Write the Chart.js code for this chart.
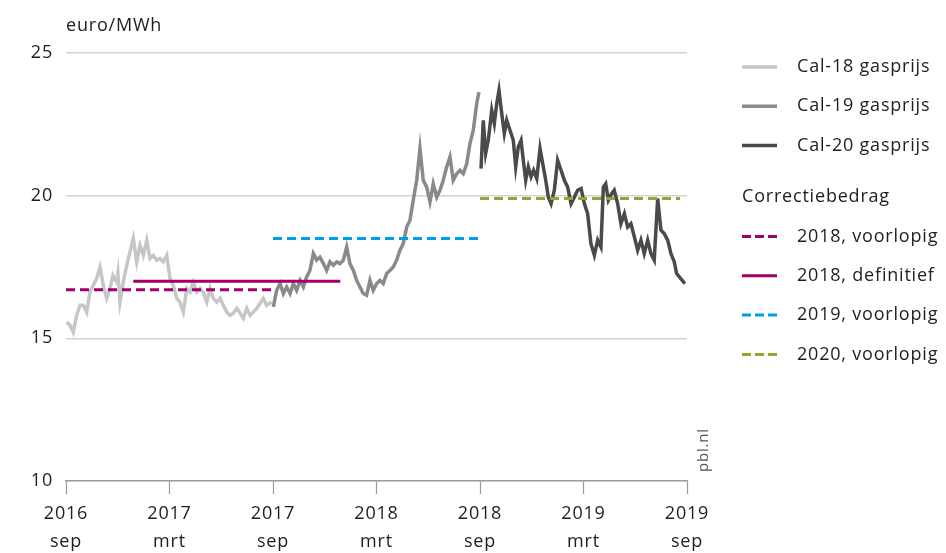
<!DOCTYPE html>
<html>
<head>
<meta charset="utf-8">
<script src="https://cdn.jsdelivr.net/npm/chart.js@4"></script>
<style>
    html, body { margin: 0; padding: 0; background: #ffffff; }
    #wrap { width: 946px; height: 553px; position: relative; }
</style>
</head>
<body>
<div id="wrap"><canvas id="gasChart"></canvas></div>
<script>
// Tick labels (months since sep 2016)
const tickYears = ['2016', '2017', '2017', '2018', '2018', '2019', '2019'];
const tickMonths = ['sep', 'mrt', 'sep', 'mrt', 'sep', 'mrt', 'sep'];

// Cal-18 gasprijs
const cal18Months = [0.04, 0.23, 0.42, 0.62, 0.81, 1.0, 1.2, 1.39, 1.58, 1.78, 1.97, 2.16, 2.36, 2.55, 2.72, 2.94, 3.01, 3.13, 3.32, 3.52, 3.71, 3.9, 4.1, 4.29, 4.48, 4.68, 4.87, 5.06, 5.26, 5.45, 5.64, 5.84, 6.03, 6.22, 6.42, 6.61, 6.8, 7.0, 7.19, 7.38, 7.58, 7.77, 7.96, 8.16, 8.35, 8.54, 8.74, 8.93, 9.12, 9.32, 9.51, 9.7, 9.9, 10.09, 10.28, 10.48, 10.67, 10.86, 11.06, 11.25, 11.44, 11.63, 11.92];
const cal18Prices = [15.57, 15.46, 15.22, 15.81, 16.16, 16.16, 15.92, 16.62, 16.86, 17.10, 17.50, 16.86, 16.40, 16.75, 17.21, 16.97, 17.28, 16.27, 16.97, 17.56, 18.03, 18.50, 17.68, 18.26, 17.91, 18.44, 17.80, 17.91, 17.74, 17.80, 17.68, 17.91, 17.09, 16.86, 16.40, 16.27, 15.92, 16.75, 16.62, 16.97, 16.62, 16.75, 16.62, 16.27, 16.75, 16.40, 16.27, 16.40, 16.16, 15.92, 15.81, 15.88, 16.05, 15.88, 15.70, 16.05, 15.81, 15.92, 16.05, 16.23, 16.40, 16.16, 16.27];

// Cal-19 gasprijs
const cal19Months = [12.02, 12.21, 12.41, 12.6, 12.79, 12.99, 13.18, 13.37, 13.57, 13.76, 13.95, 14.14, 14.34, 14.53, 14.72, 14.92, 15.11, 15.3, 15.5, 15.69, 15.88, 16.08, 16.27, 16.46, 16.66, 16.85, 17.04, 17.23, 17.43, 17.62, 17.81, 18.01, 18.2, 18.39, 18.59, 18.78, 18.97, 19.17, 19.36, 19.55, 19.75, 19.94, 20.13, 20.33, 20.52, 20.71, 20.91, 21.1, 21.29, 21.49, 21.68, 21.87, 22.07, 22.26, 22.45, 22.65, 22.84, 23.03, 23.23, 23.42, 23.61, 23.81, 23.94];
const cal19Prices = [16.10, 16.68, 16.92, 16.57, 16.80, 16.57, 16.92, 16.68, 17.03, 16.80, 17.15, 17.38, 17.97, 17.74, 17.85, 17.62, 17.38, 17.68, 17.56, 17.68, 17.62, 17.74, 18.20, 17.62, 17.38, 17.03, 16.80, 16.57, 16.51, 17.03, 16.68, 16.92, 17.03, 16.92, 17.27, 17.38, 17.50, 17.74, 18.09, 18.32, 18.90, 19.14, 19.84, 20.54, 21.65, 20.54, 20.30, 19.78, 20.42, 19.95, 20.19, 20.54, 21.01, 21.36, 20.54, 20.77, 20.89, 20.77, 21.12, 21.83, 22.29, 23.23, 23.63];

// Cal-20 gasprijs
const cal20Months = [24.06, 24.19, 24.33, 24.48, 24.68, 24.83, 24.97, 25.1, 25.26, 25.41, 25.55, 25.74, 25.93, 26.07, 26.22, 26.38, 26.51, 26.65, 26.8, 26.96, 27.11, 27.29, 27.48, 27.67, 27.81, 27.96, 28.12, 28.31, 28.5, 28.7, 28.89, 29.08, 29.28, 29.47, 29.66, 29.86, 30.05, 30.24, 30.43, 30.63, 30.82, 31.01, 31.15, 31.29, 31.44, 31.63, 31.78, 31.98, 32.17, 32.37, 32.56, 32.75, 32.95, 33.14, 33.33, 33.52, 33.72, 33.91, 34.1, 34.3, 34.49, 34.68, 34.88, 35.07, 35.26, 35.4, 35.88];
const cal20Prices = [20.95, 22.64, 21.48, 21.94, 22.99, 22.53, 23.23, 23.69, 22.88, 22.18, 22.64, 22.29, 21.94, 21.01, 21.71, 21.94, 21.24, 20.54, 21.01, 20.66, 20.89, 20.60, 21.65, 21.01, 20.54, 19.95, 19.72, 20.19, 21.24, 20.89, 20.54, 20.30, 19.72, 19.95, 20.19, 20.25, 19.72, 19.37, 18.32, 17.91, 18.44, 18.20, 20.30, 20.42, 19.84, 20.07, 20.19, 19.72, 19.02, 19.37, 18.90, 19.02, 18.55, 18.09, 18.44, 17.97, 18.44, 17.97, 17.74, 19.90, 18.79, 18.67, 18.44, 17.97, 17.68, 17.27, 16.92];

// Correctiebedrag: [start, end] in months, and level
const corr2018VoorlopigMonths = [0, 12];
const corr2018Voorlopig = 16.7;
const corr2018DefinitiefMonths = [3.9, 15.9];
const corr2018Definitief = 17.0;
const corr2019VoorlopigMonths = [12, 23.9];
const corr2019Voorlopig = 18.5;
const corr2020VoorlopigMonths = [24, 35.6];
const corr2020Voorlopig = 19.9;

const textColor = '#1e1e1e';
const fontFamily = '"Open Sans", "Noto Sans", sans-serif';
const spacing = '0.8px';

function toPoints(xs, ys) {
    return xs.map((x, i) => ({ x: x, y: ys[i] }));
}
function flatLine(range, level) {
    return range.map(x => ({ x: x, y: level }));
}

const gasLine = (label, color, xs, ys) => ({
    label: label,
    data: toPoints(xs, ys),
    borderColor: color,
    borderWidth: 3.5,
    pointRadius: 0,
    tension: 0,
    order: 2
});
const corrLine = (label, color, range, level, dash) => ({
    label: label,
    data: flatLine(range, level),
    borderColor: color,
    borderWidth: 3,
    borderDash: dash,
    pointRadius: 0,
    borderCapStyle: 'butt',
    order: 1
});

// wider letter spacing to get closer to the original typeface
const letterSpacing = {
    id: 'letterSpacing',
    beforeInit(chart) { chart.ctx.letterSpacing = spacing; },
    beforeDraw(chart) { chart.ctx.letterSpacing = spacing; }
};

const sideLegend = {
    id: 'sideLegend',
    afterDraw(chart) {
        const ctx = chart.ctx;
        ctx.save();
        ctx.letterSpacing = spacing;
        ctx.font = '18px ' + fontFamily;
        ctx.fillStyle = textColor;
        ctx.textBaseline = 'middle';
        ctx.textAlign = 'left';

        // unit label
        ctx.fillText('euro/MWh', 66, 26);

        const sets = chart.data.datasets;
        sets.forEach((ds, i) => {
            const y = i < 3 ? 67 + i * 39.3 : 236.5 + (i - 3) * 39.3;
            ctx.save();
            ctx.strokeStyle = ds.borderColor;
            ctx.lineWidth = ds.borderWidth;
            ctx.setLineDash(ds.borderDash ? [9, 4] : []);
            ctx.beginPath();
            ctx.moveTo(742, y);
            ctx.lineTo(777, y);
            ctx.stroke();
            ctx.restore();
            ctx.fillText(ds.label, 797, y);
        });
        ctx.fillText('Correctiebedrag', 742, 196.5);

        // source
        ctx.font = '15px ' + fontFamily;
        ctx.fillStyle = '#555555';
        ctx.translate(704, 450);
        ctx.rotate(-Math.PI / 2);
        ctx.textAlign = 'center';
        ctx.fillText('pbl.nl', 0, 0);
        ctx.restore();
    }
};

new Chart(document.getElementById('gasChart'), {
    type: 'line',
    data: {
        datasets: [
            gasLine('Cal-18 gasprijs', '#c6c6c6', cal18Months, cal18Prices),
            gasLine('Cal-19 gasprijs', '#8a8a8a', cal19Months, cal19Prices),
            gasLine('Cal-20 gasprijs', '#4a4a4a', cal20Months, cal20Prices),
            corrLine('2018, voorlopig', '#a1006b', corr2018VoorlopigMonths, corr2018Voorlopig, [9, 5]),
            corrLine('2018, definitief', '#a1006b', corr2018DefinitiefMonths, corr2018Definitief, undefined),
            corrLine('2019, voorlopig', '#009fe3', corr2019VoorlopigMonths, corr2019Voorlopig, [9, 5]),
            corrLine('2020, voorlopig', '#9ea12b', corr2020VoorlopigMonths, corr2020Voorlopig, [9, 5])
        ]
    },
    options: {
        responsive: true,
        maintainAspectRatio: false,
        animation: false,
        layout: {
            padding: { top: 53, right: 259, left: 0, bottom: 0 }
        },
        plugins: {
            legend: { display: false },
            tooltip: { enabled: false }
        },
        scales: {
            x: {
                type: 'linear',
                min: 0,
                max: 36,
                afterFit: (scale) => { scale.height = 72; },
                afterBuildTicks: (scale) => {
                    scale.ticks = tickYears.map((_, i) => ({ value: i * 6 }));
                },
                border: { display: true, color: '#9a9a9a', width: 1.5 },
                grid: {
                    drawOnChartArea: false,
                    drawTicks: true,
                    tickLength: 13,
                    tickColor: '#9a9a9a',
                    tickWidth: 1.2
                },
                ticks: {
                    autoSkip: false,
                    maxRotation: 0,
                    padding: 6,
                    color: textColor,
                    font: { family: fontFamily, size: 18, lineHeight: 1.55 },
                    callback: (value) => {
                        const i = Math.round(value / 6);
                        return [tickYears[i], tickMonths[i]];
                    }
                }
            },
            y: {
                min: 10,
                max: 25,
                afterFit: (scale) => { scale.width = 66; },
                border: { display: false },
                grid: {
                    drawTicks: false,
                    color: (c) => c.tick.value === 10 ? 'rgba(0,0,0,0)' : '#d2d2d2',
                    lineWidth: 1.5
                },
                ticks: {
                    stepSize: 5,
                    padding: 13,
                    color: textColor,
                    font: { family: fontFamily, size: 18 }
                }
            }
        }
    },
    plugins: [letterSpacing, sideLegend]
});
</script>
</body>
</html>
